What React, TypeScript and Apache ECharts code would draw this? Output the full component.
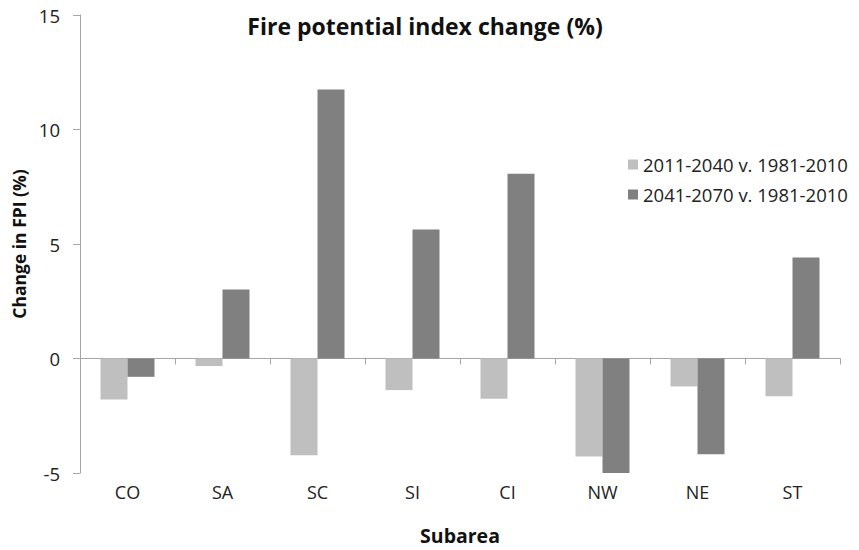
import React, { useEffect, useRef } from "react";
import * as echarts from "echarts";

const categories = ["CO", "SA", "SC", "SI", "CI", "NW", "NE", "ST"];
const seriesNames = ["2011-2040 v. 1981-2010", "2041-2070 v. 1981-2010"];
const near = [-1.79, -0.33, -4.22, -1.38, -1.76, -4.28, -1.22, -1.65];
const far = [-0.8, 3.01, 11.75, 5.63, 8.07, -5.03, -4.18, 4.41];
const yTicks = [-5, 0, 5, 10, 15];

const FONT = "'Open Sans', 'Liberation Sans', sans-serif";

export default function App() {
  const ref = useRef<HTMLDivElement>(null);
  useEffect(() => {
    if (!ref.current) return;
    const chart = echarts.init(ref.current, null, { renderer: "svg" });
    chart.setOption({
      animation: false,
      backgroundColor: "#ffffff",
      textStyle: { fontFamily: FONT },
      title: {
        text: "Fire potential index change (%)",
        left: 420,
        top: 9,
        textAlign: "center",
        textStyle: { fontFamily: FONT, fontSize: 23, fontWeight: "bold", color: "#111" },
      },
      legend: {
        orient: "vertical",
        left: 623,
        top: 150,
        itemWidth: 10,
        itemHeight: 10,
        itemGap: 11,
        icon: "rect",
        textStyle: { fontFamily: FONT, fontSize: 18.5, color: "#222" },
        data: seriesNames,
      },
      grid: { left: 80, right: 19, top: 15, bottom: 77, containLabel: false },
      xAxis: [
        {
          type: "category",
          data: categories,
          position: "bottom",
          axisLine: { show: true, onZero: true, lineStyle: { color: "#a6a6a6", width: 1 } },
          axisTick: { show: true, length: 6, inside: false, lineStyle: { color: "#a6a6a6" } },
          axisLabel: { show: false },
          splitLine: { show: false },
        },
        {
          type: "category",
          data: categories,
          position: "bottom",
          name: "Subarea",
          nameLocation: "middle",
          nameGap: 52,
          nameTextStyle: { fontFamily: FONT, fontSize: 19.5, fontWeight: "bold", color: "#111" },
          axisLine: { show: false, onZero: false },
          axisTick: { show: false },
          axisLabel: { show: true, margin: 10, fontFamily: FONT, fontSize: 18, color: "#222" },
          splitLine: { show: false },
        },
      ],
      yAxis: {
        type: "value",
        min: yTicks[0],
        max: yTicks[yTicks.length - 1],
        interval: 5,
        name: "Change in FPI (%)",
        nameLocation: "middle",
        nameGap: 43,
        nameTextStyle: { fontFamily: FONT, fontSize: 17.5, fontWeight: "bold", color: "#111" },
        axisLine: { show: true, lineStyle: { color: "#a6a6a6", width: 1 } },
        axisTick: { show: true, length: 7, lineStyle: { color: "#a6a6a6" } },
        axisLabel: { margin: 20, fontFamily: FONT, fontSize: 18.5, color: "#222" },
        splitLine: { show: false },
      },
      series: [
        {
          name: seriesNames[0],
          type: "bar",
          xAxisIndex: 0,
          data: near,
          barWidth: 27,
          barGap: "0%",
          itemStyle: { color: "#bfbfbf" },
        },
        {
          name: seriesNames[1],
          type: "bar",
          xAxisIndex: 0,
          data: far,
          barWidth: 27,
          barGap: "0%",
          itemStyle: { color: "#808080" },
        },
      ],
    });
    return () => chart.dispose();
  }, []);
  return <div ref={ref} style={{ width: 859, height: 550, position: "absolute", left: 0, top: 0 }} />;
}
